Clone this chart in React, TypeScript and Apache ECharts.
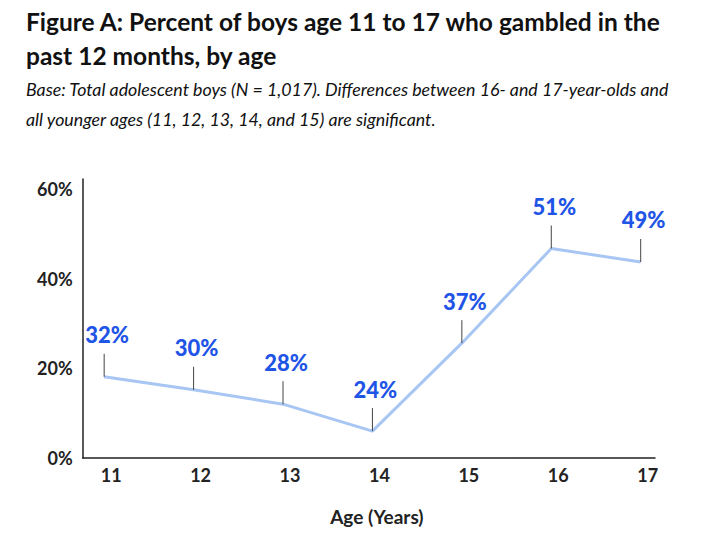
import React, { useEffect, useRef } from "react";
import * as echarts from "echarts";

const ages = [11, 12, 13, 14, 15, 16, 17];
// plotted positions of the line (as drawn in the figure, in % on the y axis)
const linePositions = [18.1, 15.2, 12.0, 6.0, 25.6, 46.7, 43.7];
// annotated values
const valueLabels = ["32%", "30%", "28%", "24%", "37%", "51%", "49%"];
const yTicks = [0, 20, 40, 60];

const FONT = "Lato, 'Noto Sans', sans-serif";

export default function App() {
  const ref = useRef<HTMLDivElement>(null);
  useEffect(() => {
    document.body.style.margin = "0";
    const chart = echarts.init(ref.current!, undefined, { renderer: "svg" });
    const pts = ages.map((a, i) => [a, linePositions[i], i]);
    chart.setOption({
      animation: false,
      backgroundColor: "#fff",
      title: [
        {
          text: "Figure A: Percent of boys age 11 to 17 who gambled in the\npast 12 months, by age",
          left: 26,
          top: 5,
          padding: 0,
          textStyle: { fontFamily: FONT, fontWeight: "bold", fontSize: 24.5, color: "#111", lineHeight: 33.5 },
        },
        {
          text: "Base: Total adolescent boys (N = 1,017). Differences between 16- and 17-year-olds and\nall younger ages (11, 12, 13, 14, and 15) are significant.",
          left: 26,
          top: 74,
          padding: 0,
          textStyle: { fontFamily: FONT, fontStyle: "italic", fontWeight: "normal", fontSize: 17.8, color: "#111", lineHeight: 30 },
        },
      ],
      grid: { left: 82.7, right: 47, top: 179, bottom: 96 },
      xAxis: {
        type: "value",
        min: 10.76,
        max: 17.16,
        name: "Age (Years)",
        nameLocation: "middle",
        nameGap: 49,
        nameTextStyle: { fontFamily: FONT, fontWeight: "bold", fontSize: 19, color: "#222", padding: [0, 0, 0, 16] },
        axisLine: { show: true, lineStyle: { color: "#222", width: 1.5 } },
        axisTick: { show: false },
        splitLine: { show: false },
        axisLabel: {
          customValues: ages,
          margin: 8,
          fontFamily: FONT,
          fontWeight: "bold",
          fontSize: 18,
          color: "#222",
          padding: [0, 0, 0, 14],
        },
      },
      yAxis: {
        type: "value",
        min: 0,
        max: 62.2,
        axisLine: { show: true, lineStyle: { color: "#222", width: 1.5 } },
        axisTick: { show: false },
        splitLine: { show: false },
        axisLabel: {
          customValues: yTicks,
          formatter: (v: number) => v + "%",
          margin: 10,
          fontFamily: FONT,
          fontWeight: "bold",
          fontSize: 18,
          color: "#222",
        },
      },
      series: [
        {
          type: "line",
          data: pts.map((p) => [p[0], p[1]]),
          symbol: "none",
          lineStyle: { color: "#a8c6f3", width: 3 },
          z: 2,
        },
        {
          type: "custom",
          data: pts,
          z: 3,
          renderItem: (params: any, api: any) => {
            const c = api.coord([api.value(0), api.value(1)]);
            const idx = api.value(2);
            return {
              type: "group",
              children: [
                {
                  type: "line",
                  shape: { x1: c[0], y1: c[1], x2: c[0], y2: c[1] - 23 },
                  style: { stroke: "#444", lineWidth: 1 },
                },
                {
                  type: "text",
                  x: c[0] + 3,
                  y: c[1] - 42,
                  style: {
                    text: valueLabels[idx],
                    fill: "#1f55e6",
                    font: `900 22px ${FONT}`,
                    align: "center",
                    verticalAlign: "middle",
                  },
                },
              ],
            };
          },
        },
      ],
    });
    return () => chart.dispose();
  }, []);
  return <div ref={ref} style={{ width: 702, height: 554 }} />;
}
